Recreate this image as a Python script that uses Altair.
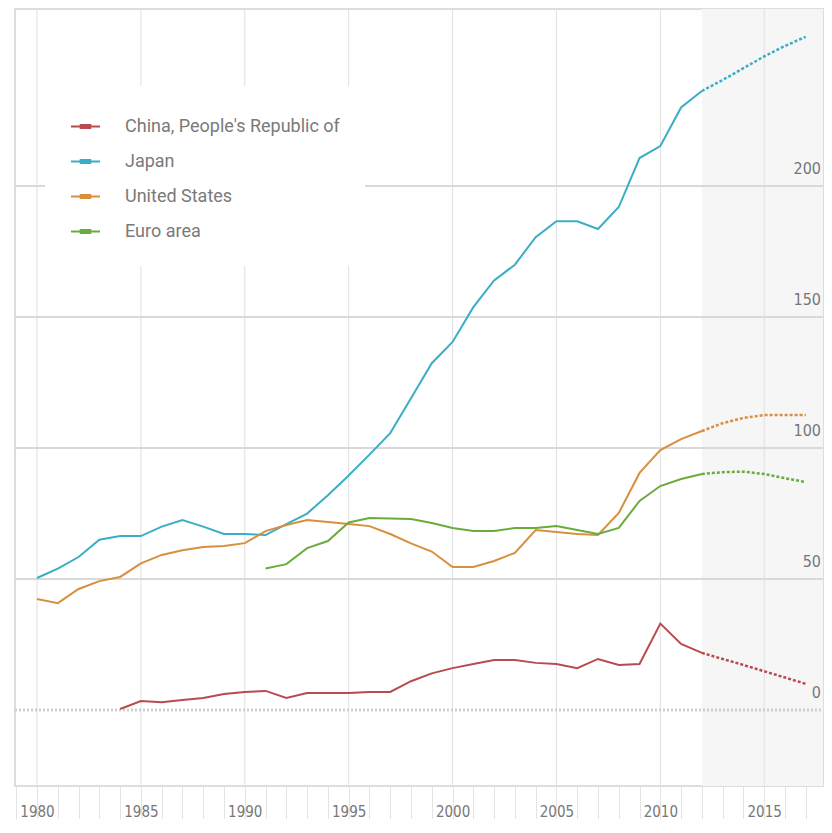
import altair as alt
import pandas as pd

# ---- data (government gross debt, % of GDP) ----
years = list(range(1980, 2018))
series_names = ["China, People's Republic of", "Japan", "United States", "Euro area"]
series_colors = ["#b94a50", "#3aaec6", "#d88f3e", "#6aac3d"]

china = [None, None, None, None,
         0.4, 3.4, 3.0, 3.8, 4.6, 6.1, 6.9, 7.3,
         4.6, 6.5, 6.5, 6.5, 6.9, 6.9,
         11.0, 14.0, 16.0, 17.6, 19.1, 19.1, 18.0, 17.6, 16.0, 19.5,
         17.2, 17.6, 33.0, 25.2, 21.8,
         19.5, 17.2, 14.8, 12.4, 10.0]
japan = [50.4, 54.0, 58.4, 65.0, 66.4, 66.4, 70.0, 72.5, 70.0, 67.2,
         67.2, 66.8, 71.0, 75.0, 82.0, 89.5, 97.5, 105.7, 119.0, 132.4,
         140.5, 153.8, 164.0, 170.0, 180.5, 186.6, 186.6, 183.6, 192.0, 210.7,
         215.3, 230.0, 236.3, 240.5, 245.0, 249.5, 253.5, 257.0]
usa = [42.4, 40.8, 46.2, 49.2, 50.8, 56.0, 59.2, 61.0, 62.2, 62.6,
       63.7, 68.3, 70.6, 72.5, 71.8, 71.0, 70.2, 67.2, 63.6, 60.5,
       54.6, 54.6, 56.9, 60.0, 68.7, 68.0, 67.2, 66.8, 75.2, 90.5,
       99.2, 103.4, 106.5, 109.5, 111.5, 112.6, 112.6, 112.6]
euro = [None, None, None, None, None, None, None, None, None, None, None,
        54.0, 55.7, 61.8, 64.5, 71.6, 73.3, 73.1, 72.9, 71.4,
        69.5, 68.3, 68.3, 69.5, 69.5, 70.2, 68.7, 67.2, 69.5, 79.8,
        85.5, 88.2, 90.1, 90.8, 91.0, 90.1, 88.5, 87.0]

forecast_start = 2012
grid_years = [1980, 1985, 1990, 1995, 2000, 2005, 2010, 2015]
grid_values = [50, 100, 150, 200]
y_tick_labels = [0, 50, 100, 150, 200]
axis_tick_years = list(range(1979, 2018))

rows = []
for name, vals in zip(series_names, [china, japan, usa, euro]):
    for yr, v in zip(years, vals):
        if v is not None:
            rows.append({"year": yr, "value": v, "series": name})
df = pd.DataFrame(rows)
hist = df[df["year"] <= forecast_start]
proj = df[df["year"] >= forecast_start]

W, H = 808, 777
NARROW = "Liberation Sans Narrow, DejaVu Sans Condensed, Arial Narrow, sans-serif"

x_scale = alt.Scale(domain=[1978.94, 2017.83], nice=False, zero=False)
y_scale = alt.Scale(domain=[-29, 267.6], nice=False, zero=False)
color_scale = alt.Scale(domain=series_names, range=series_colors)

x_axis = alt.Axis(
    values=axis_tick_years, title=None, grid=False, domain=False,
    ticks=True, tickColor="#e3e3e3", tickSize=34, tickWidth=1,
    labelExpr="datum.value % 5 == 0 ? datum.label : ''",
    labelPadding=-16, labelFont=NARROW, labelFontSize=15, labelColor="#777777",
    labelOverlap=False, labelFlush=False, format="d",
)

shade = alt.Chart(pd.DataFrame({"start": [forecast_start]})).mark_rect(
    color="#f6f6f6"
).encode(
    x=alt.X("start:Q", scale=x_scale, axis=x_axis),
    x2=alt.value(W),
    y=alt.value(0),
    y2=alt.value(H),
)

vgrid = alt.Chart(pd.DataFrame({"yr": grid_years})).mark_rule(
    color="#e0e0e0", strokeWidth=1
).encode(
    x=alt.X("yr:Q", scale=x_scale, axis=x_axis),
    y=alt.value(0),
    y2=alt.value(H),
)

hgrid = alt.Chart(pd.DataFrame({"v": grid_values})).mark_rule(
    color="#d9d9d9", strokeWidth=2
).encode(
    y=alt.Y("v:Q", scale=y_scale, axis=None),
    x=alt.value(0),
    x2=alt.value(W),
)

zero_line = alt.Chart(pd.DataFrame({"v": [0]})).mark_rule(
    color="#cfcfcf", strokeWidth=3, strokeDash=[2, 2]
).encode(
    y=alt.Y("v:Q", scale=y_scale, axis=None),
    x=alt.value(0),
    x2=alt.value(W),
)

legend = alt.Legend(
    title=None, orient="none", legendX=30, legendY=77,
    fillColor="white", padding=25, rowPadding=10, labelLimit=500,
    labelFont="Roboto", labelFontSize=18, labelColor="#7a7a7a", labelOffset=24,
    symbolType="M-1,0H1M-0.4,-0.1H0.4M-0.4,0.1H0.4", symbolSize=841,
    symbolStrokeWidth=2,
)

hist_lines = alt.Chart(hist).mark_line(strokeWidth=2).encode(
    x=alt.X("year:Q", scale=x_scale, axis=x_axis),
    y=alt.Y("value:Q", scale=y_scale, axis=None),
    color=alt.Color("series:N", scale=color_scale, legend=legend, sort=series_names),
    detail="series:N",
)

proj_lines = alt.Chart(proj).mark_line(strokeWidth=2.5, strokeDash=[3, 2]).encode(
    x=alt.X("year:Q", scale=x_scale, axis=x_axis),
    y=alt.Y("value:Q", scale=y_scale, axis=None),
    color=alt.Color("series:N", scale=color_scale, legend=None),
    detail="series:N",
)

y_labels = alt.Chart(pd.DataFrame({"v": y_tick_labels})).mark_text(
    align="right", baseline="bottom", dy=-9, font=NARROW, fontSize=16, color="#777777"
).encode(
    y=alt.Y("v:Q", scale=y_scale, axis=None),
    x=alt.value(W - 2),
    text=alt.Text("v:Q", format="d"),
)

chart = alt.layer(
    shade, vgrid, hgrid, zero_line, hist_lines, proj_lines, y_labels
).properties(
    width=W, height=H,
    padding={"left": 7, "top": 1, "right": 1, "bottom": 33},
    autosize=alt.AutoSizeParams(type="none"),
).configure_view(
    stroke="#dddddd", strokeWidth=2
)

chart.save("out.html", embed_options={"renderer": "svg", "actions": False})
